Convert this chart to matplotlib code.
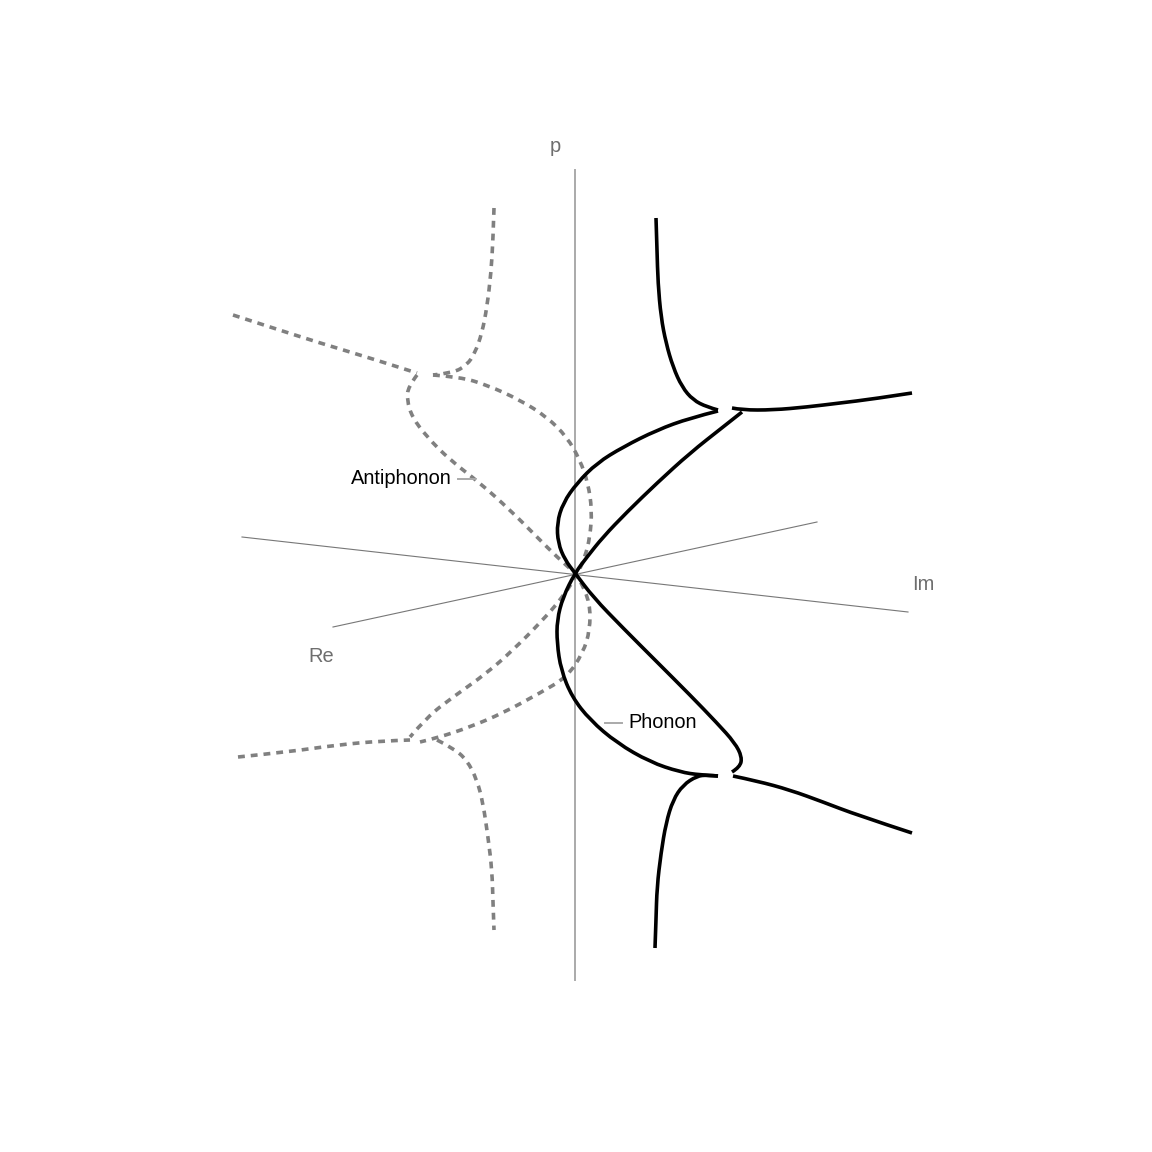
# Phonon / antiphonon branches in the complex momentum plane,
# drawn as a flat projection (p vertical, Re and Im slanted).
import matplotlib.pyplot as plt
from matplotlib.path import Path
from matplotlib.patches import PathPatch

plt.rcParams['font.family'] = ['Liberation Sans', 'DejaVu Sans']

# projected coordinates of the curves (origin = where the axes cross)
# phonon, solid
ph_top_x = [81, 82, 83, 86, 91, 98, 107, 118, 132, 143]
ph_top_y = [355, 323, 290, 256, 230, 206, 186, 173, 166, 163]

ph_loop_x = [143, 115, 82, 48, 22, 2, -12, -18, -17, -10, 0,
             18, 48, 82, 115, 142, 160, 167, 165, 157]
ph_loop_y = [162, 155, 143, 126, 110, 90, 70, 50, 30, 13, 0,
             -24, -55, -89, -122, -150, -170, -184, -194, -199]

ph_right_top_x = [157, 167, 198, 232, 265, 298, 337]
ph_right_top_y = [165, 163, 163, 166, 170, 174, 180]

ph_cross_x = [167, 148, 115, 82, 52, 28, 12, 0, -12, -18, -18, -14, -3,
              15, 42, 75, 105, 125, 143]
ph_cross_y = [161, 146, 120, 90, 61, 36, 16, 0, -24, -47, -70, -97, -124,
              -147, -170, -189, -199, -202, -203]

ph_bot_x = [80, 81, 82, 86, 91, 98, 108, 122, 132, 143]
ph_bot_y = [-375, -347, -314, -280, -250, -227, -212, -203, -202, -203]

ph_right_bot_x = [158, 182, 215, 248, 282, 337]
ph_right_bot_y = [-203, -208, -217, -229, -242, -260]

# antiphonon, dashed
ap_top_x = [-81, -82, -84, -88, -93, -100, -108, -122, -142]
ap_top_y = [365, 333, 300, 266, 240, 220, 208, 200, 198]

ap_left_top_x = [-342, -305, -255, -205, -158]
ap_left_top_y = [258, 246, 230, 215, 200]

ap_loop_x = [-158, -167, -168, -163, -148, -125, -95, -65, -38, -18, 0,
             5, 15, 15, 8, -8, -35, -72, -105, -138, -155]
ap_loop_y = [198, 186, 173, 156, 136, 113, 90, 63, 36, 16, 0,
             -7, -30, -57, -80, -104, -120, -140, -154, -165, -169]

ap_cross_x = [-142, -115, -88, -55, -28, -8, 5, 13, 17, 15, 10, 3,
              -12, -35, -62, -88, -122, -148, -165]
ap_cross_y = [198, 196, 188, 173, 156, 136, 113, 90, 63, 36, 16, 0,
              -24, -50, -77, -100, -124, -144, -164]

ap_left_bot_x = [-337, -288, -238, -195, -165]
ap_left_bot_y = [-184, -179, -172, -168, -167]

ap_bot_x = [-138, -122, -108, -98, -92, -87, -83, -82, -81]
ap_bot_y = [-167, -175, -187, -207, -230, -264, -297, -330, -357]


def smooth_path(xs, ys):
    # quadratic b-spline through the midpoints, ends kept exact
    pts = list(zip(xs, ys))
    if len(pts) < 3:
        return Path(pts)
    verts = [pts[0]]
    codes = [Path.MOVETO]
    for i in range(1, len(pts) - 1):
        if i < len(pts) - 2:
            end = ((pts[i][0] + pts[i + 1][0]) / 2, (pts[i][1] + pts[i + 1][1]) / 2)
        else:
            end = pts[-1]
        verts += [pts[i], end]
        codes += [Path.CURVE3, Path.CURVE3]
    return Path(verts, codes)


fig = plt.figure(figsize=(11.52, 11.52), dpi=100)
ax = fig.add_axes([0, 0, 1, 1])
ax.set_xlim(-575, 577)
ax.set_ylim(-579, 573)
ax.axis('off')

# axes of the projection
ax.plot([0, 0], [403, -407], color='#aaaaaa', lw=1.4, zorder=1)
ax.plot([-333, 333], [36, -39], color='#777777', lw=0.8, zorder=1)
ax.plot([-242, 242], [-54, 51], color='#777777', lw=0.8, zorder=1)

lab = dict(color='#6e6e6e', fontsize=14.4, ha='center', va='center')
ax.text(-20, 427, 'p', **lab)
ax.text(348, -12, 'Im', **lab)
ax.text(-254, -83, 'Re', **lab)

phonon = [(ph_top_x, ph_top_y), (ph_loop_x, ph_loop_y),
          (ph_right_top_x, ph_right_top_y), (ph_cross_x, ph_cross_y),
          (ph_bot_x, ph_bot_y), (ph_right_bot_x, ph_right_bot_y)]
antiphonon = [(ap_top_x, ap_top_y), (ap_left_top_x, ap_left_top_y),
              (ap_loop_x, ap_loop_y), (ap_cross_x, ap_cross_y),
              (ap_left_bot_x, ap_left_bot_y), (ap_bot_x, ap_bot_y)]

for xs, ys in antiphonon:
    ax.add_patch(PathPatch(smooth_path(xs, ys), fill=False, edgecolor='#808080',
                           lw=2.6, linestyle=(0, (1.9, 1.65)), capstyle='butt', zorder=2))
for xs, ys in phonon:
    ax.add_patch(PathPatch(smooth_path(xs, ys), fill=False, edgecolor='black',
                           lw=2.6, capstyle='butt', zorder=3))

# curve labels with short leaders
ax.plot([-117, -100], [94, 94], color='#aaaaaa', lw=1.4)
ax.text(-224, 94, 'Antiphonon', color='black', fontsize=14.4, ha='left', va='center')
ax.plot([30, 47], [-150, -150], color='#aaaaaa', lw=1.4)
ax.text(53, -150, 'Phonon', color='black', fontsize=14.4, ha='left', va='center')

fig.savefig('out.png')
